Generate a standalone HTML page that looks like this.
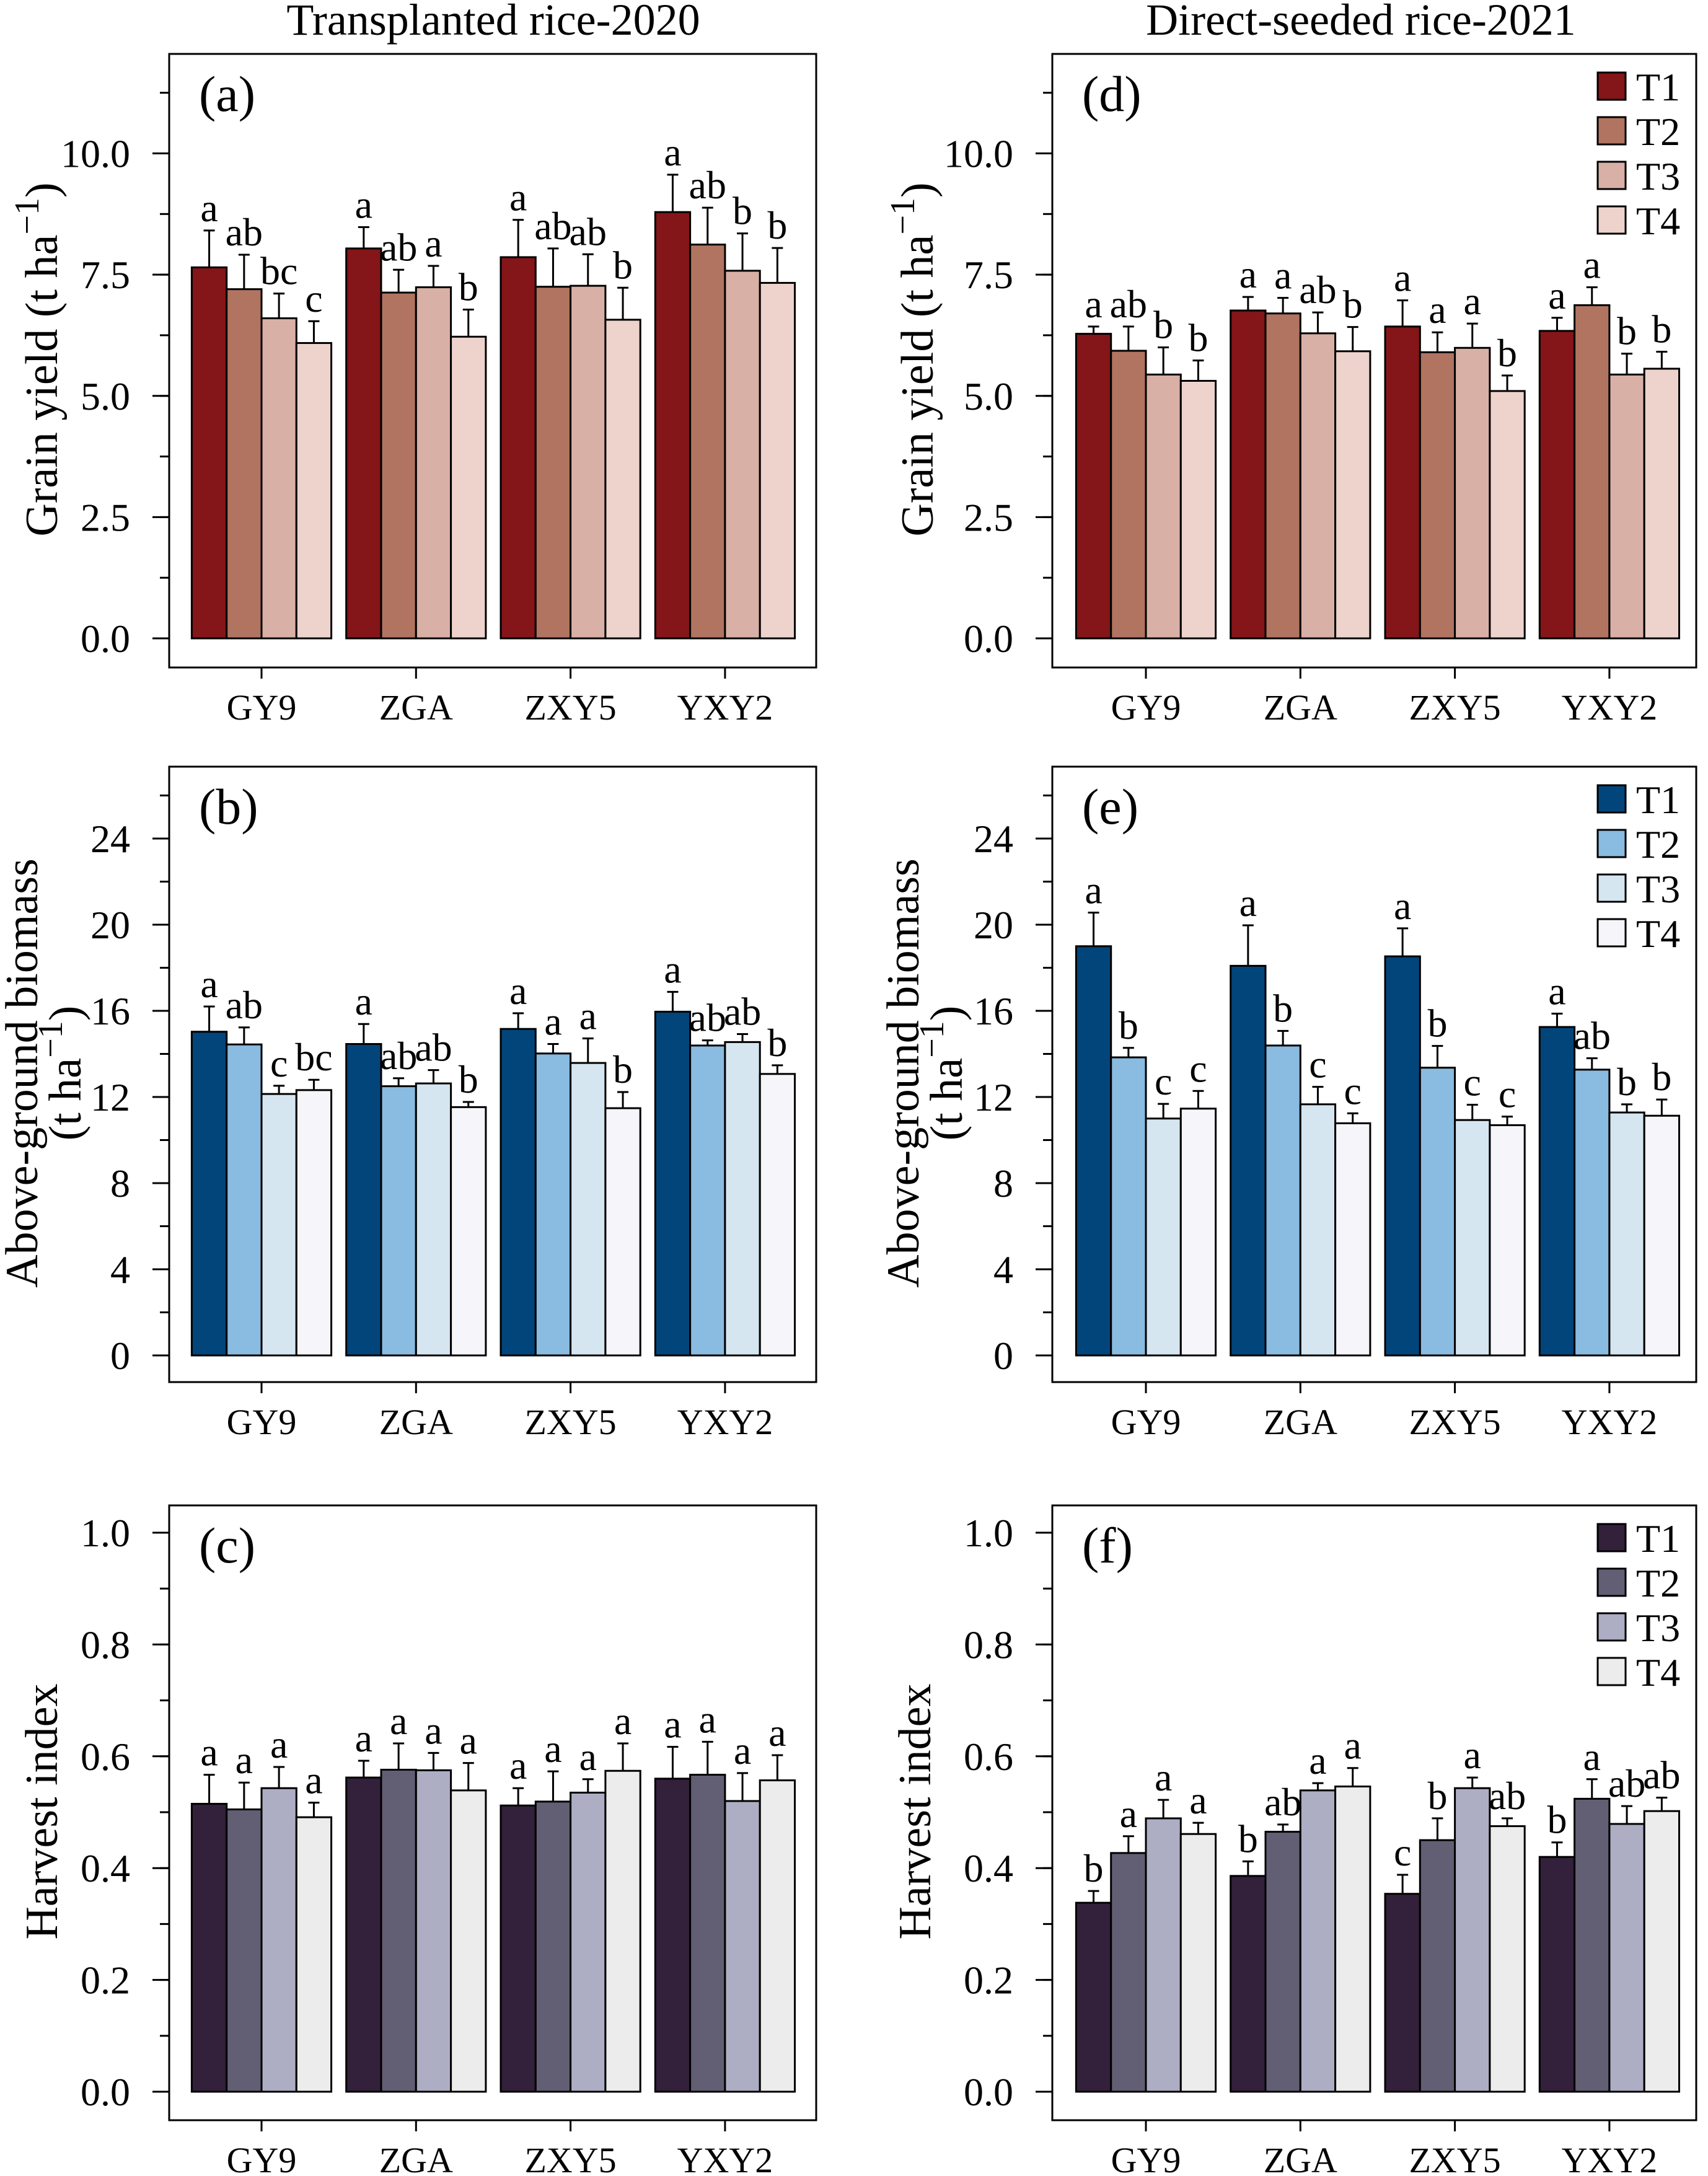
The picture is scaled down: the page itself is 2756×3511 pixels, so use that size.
<!DOCTYPE html>
<html><head><meta charset="utf-8">
<style>
html,body{margin:0;padding:0;background:#fff;}
svg{display:block;font-family:"Liberation Serif","Times New Roman",serif;}
text{font-family:"Liberation Serif","Times New Roman",serif;}
</style></head>
<body>
<svg id="fig" xmlns="http://www.w3.org/2000/svg" width="2756" height="3511" viewBox="0 0 2756 3511" font-family="Liberation Serif, serif">
<rect x="0" y="0" width="2756" height="3511" fill="#fff"/>
<text x="796" y="56" font-size="72" text-anchor="middle" font-family="Liberation Serif, serif">Transplanted rice-2020</text>
<text x="2196" y="56" font-size="72" text-anchor="middle" font-family="Liberation Serif, serif">Direct-seeded rice-2021</text>
</svg>
<script>
const categories = ["GY9","ZGA","ZXY5","YXY2"];
const treatments = ["T1","T2","T3","T4"];

// (a) transplanted grain yield
const aMean = [[7.65,7.20,6.60,6.09],[8.04,7.13,7.24,6.22],[7.86,7.25,7.27,6.57],[8.79,8.12,7.58,7.33]];
const aErr  = [[8.41,7.91,7.11,6.54],[8.48,7.60,7.68,6.78],[8.63,8.04,7.92,7.23],[9.56,8.88,8.35,8.05]];
const aSig  = [["a","ab","bc","c"],["a","ab","a","b"],["a","ab","ab","b"],["a","ab","b","b"]];
// (b) transplanted biomass
const bMean = [[15.03,14.44,12.14,12.32],[14.46,12.50,12.63,11.53],[15.16,14.02,13.58,11.48],[15.96,14.39,14.55,13.07]];
const bErr  = [[16.20,15.23,12.52,12.80],[15.39,12.87,13.25,11.77],[15.89,14.46,14.72,12.23],[16.88,14.63,14.92,13.47]];
const bSig  = [["a","ab","c","bc"],["a","ab","ab","b"],["a","a","a","b"],["a","ab","ab","b"]];
// (c) transplanted harvest index
const cMean = [[0.515,0.505,0.543,0.491],[0.562,0.576,0.575,0.539],[0.512,0.519,0.535,0.574],[0.560,0.567,0.520,0.557]];
const cErr  = [[0.567,0.553,0.581,0.517],[0.592,0.623,0.606,0.588],[0.543,0.573,0.559,0.623],[0.617,0.626,0.570,0.602]];
const cSig  = [["a","a","a","a"],["a","a","a","a"],["a","a","a","a"],["a","a","a","a"]];
// (d) direct-seeded grain yield
const dMean = [[6.28,5.93,5.44,5.31],[6.76,6.70,6.29,5.92],[6.43,5.90,5.99,5.10],[6.34,6.87,5.44,5.56]];
const dErr  = [[6.43,6.43,6.00,5.73],[7.04,7.02,6.72,6.42],[6.97,6.31,6.49,5.42],[6.61,7.24,5.87,5.91]];
const dSig  = [["a","ab","b","b"],["a","a","ab","b"],["a","a","a","b"],["a","a","b","b"]];
// (e) direct-seeded biomass
const eMean = [[19.00,13.84,11.00,11.46],[18.09,14.39,11.66,10.78],[18.53,13.36,10.93,10.69],[15.25,13.27,11.28,11.13]];
const eErr  = [[20.56,14.28,11.68,12.28],[19.97,15.07,12.47,11.24],[19.83,14.37,11.64,11.09],[15.87,13.80,11.66,11.88]];
const eSig  = [["a","b","c","c"],["a","b","c","c"],["a","b","c","c"],["a","ab","b","b"]];
// (f) direct-seeded harvest index
const fMean = [[0.338,0.427,0.489,0.461],[0.386,0.465,0.539,0.546],[0.354,0.450,0.543,0.475],[0.420,0.524,0.479,0.502]];
const fErr  = [[0.359,0.457,0.522,0.481],[0.412,0.478,0.552,0.579],[0.388,0.489,0.562,0.489],[0.446,0.559,0.511,0.526]];
const fSig  = [["b","a","a","a"],["b","ab","a","a"],["c","b","a","ab"],["b","a","ab","ab"]];

const yieldTicks = ["0.0","2.5","5.0","7.5","10.0"];
const biomassTicks = ["0","4","8","12","16","20","24"];
const hiTicks = ["0.0","0.2","0.4","0.6","0.8","1.0"];

const redCols = ["#841518","#b07460","#d9b0a5","#eed3cd"];
const blueCols = ["#02457b","#8abbe0","#d5e6f1","#f5f5fa"];
const purpleCols = ["#33203a","#625e73","#adadc4","#ececec"];

const NS = "http://www.w3.org/2000/svg";
const FONT = "Liberation Serif, Times New Roman, serif";
const svg = document.getElementById("fig");
function mk(tag, attrs, parent){
  const e = document.createElementNS(NS, tag);
  for (const k in attrs) e.setAttribute(k, attrs[k]);
  if (tag === "text") e.setAttribute("font-family", FONT);
  (parent||svg).appendChild(e);
  return e;
}

const cols = [
  {boxL:273, boxR:1317, x0:422, lblR:210},
  {boxL:1698, boxR:2737, x0:1849, lblR:1635}
];
const rows = [
  {top:87, bottom:1077, y0:1030, unit:78.25, max:11.25, minor:1.25, ticks:yieldTicks},
  {top:1237, bottom:2230, y0:2187, unit:34.75, max:26, minor:2, ticks:biomassTicks},
  {top:2429, bottom:3421, y0:3375, unit:902, max:1.0, minor:0.1, ticks:hiTicks}
];
const pitch = 249.3, barW = 56.3;

function panel(id, c, r, mean, err, sig, colors, label, ytitleLines, titleX, legend){
  const C = cols[c], R = rows[r];
  const g = mk("g", {});
  
  
  const yS = v => R.y0 - v * R.unit;
  const xS = i => C.x0 + i * pitch;
  const box = mk("rect", {x:C.boxL, y:R.top, width:C.boxR-C.boxL, height:R.bottom-R.top, fill:"none", stroke:"#000", "stroke-width":3}, g);
  
  
  const nMinor = Math.round(R.max / R.minor);
  for (let k = 0; k <= nMinor; k++){
    const y = yS(k * R.minor);
    const t = mk("line", {x1:C.boxL-15, x2:C.boxL, y1:y, y2:y, stroke:"#000", "stroke-width":3}, g);
    
    
  }
  R.ticks.forEach(lbl => {
    const y = yS(parseFloat(lbl));
    const t = mk("line", {x1:C.boxL-27, x2:C.boxL, y1:y, y2:y, stroke:"#000", "stroke-width":3}, g);
    
    
    const tx = mk("text", {x:C.lblR, y:y+22, "font-size":64, "text-anchor":"end"}, g);
    tx.textContent = lbl;
    
    
  });
  categories.forEach((cat, i) => {
    const x = xS(i);
    const t = mk("line", {x1:x, x2:x, y1:R.bottom, y2:R.bottom+18, stroke:"#000", "stroke-width":3}, g);
    
    
    const tx = mk("text", {x:x, y:R.bottom+84, "font-size":58, "text-anchor":"middle"}, g);
    tx.textContent = cat;
    
    
  });
  categories.forEach((cat, i) => {
    treatments.forEach((tr, j) => {
      const left = xS(i) + (j - 2) * barW;
      const v = mean[i][j];
      const b = mk("rect", {x:left, y:yS(v), width:barW, height:yS(0)-yS(v), fill:colors[j], stroke:"#000", "stroke-width":3}, g);
      
      
      const cx = left + barW/2;
      const eTop = yS(err[i][j]);
      const el = mk("path", {d:"M"+cx+" "+yS(v)+" V"+eTop+" M"+(cx-9)+" "+eTop+" H"+(cx+9), stroke:"#000", "stroke-width":3, fill:"none"}, g);
      
      
      const s = mk("text", {x:cx, y:eTop-15, "font-size":64, "text-anchor":"middle"}, g);
      s.textContent = sig[i][j];
      
      
    });
  });
  const pl = mk("text", {x:C.boxL+48, y:R.top+92, "font-size":82}, g);
  pl.textContent = label;
  
  
  const cy = (R.top + R.bottom)/2 - 2;
  ytitleLines.forEach((ln, k) => {
    const x = titleX[k];
    const t = mk("text", {x:x, y:cy, "font-size":74, "text-anchor":"middle", transform:"rotate(-90 "+x+" "+cy+")"}, g);
    
    
    if (ln === "unit" || ln === "gy"){
      const a = mk("tspan", {}, t); a.textContent = ln === "gy" ? "Grain yield (t ha" : "(t ha";
      const b = mk("tspan", {dy:-30, "font-size":56}, t); b.textContent = "\u22121";
      const d = mk("tspan", {dy:30}, t); d.textContent = ")";
    } else {
      t.textContent = ln;
    }
  });
  if (legend){
    treatments.forEach((tr, j) => {
      const y = R.top + 52 + 72*j;
      const lg = mk("g", {}, g);
      
      
      mk("rect", {x:2578, y:y-22, width:45, height:44, fill:colors[j], stroke:"#000", "stroke-width":3}, lg);
      const t = mk("text", {x:2640, y:y+23, "font-size":64}, lg);
      t.textContent = tr;
    });
  }
}

panel("a", 0, 0, aMean, aErr, aSig, redCols, "(a)", ["gy"], [92], false);
panel("b", 0, 1, bMean, bErr, bSig, blueCols, "(b)", ["Above-ground biomass","unit"], [60,130], false);
panel("c", 0, 2, cMean, cErr, cSig, purpleCols, "(c)", ["Harvest index"], [92], false);
panel("d", 1, 0, dMean, dErr, dSig, redCols, "(d)", ["gy"], [1505], true);
panel("e", 1, 1, eMean, eErr, eSig, blueCols, "(e)", ["Above-ground biomass","unit"], [1482,1552], true);
panel("f", 1, 2, fMean, fErr, fSig, purpleCols, "(f)", ["Harvest index"], [1501], true);
</script>
</body></html>
